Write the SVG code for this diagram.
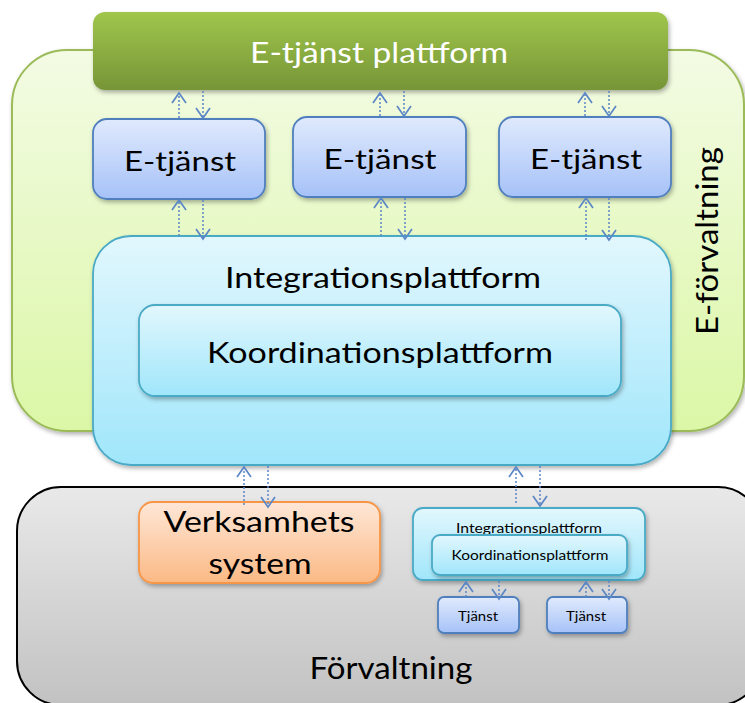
<svg xmlns="http://www.w3.org/2000/svg" width="745" height="703" viewBox="0 0 745 703">
<defs>
<linearGradient id="gOuter" x1="0" y1="0" x2="0" y2="1"><stop offset="0" stop-color="#f3fbe4"/><stop offset="1" stop-color="#dbf7a6"/></linearGradient>
<linearGradient id="gBar" x1="0" y1="0" x2="0" y2="1"><stop offset="0" stop-color="#a0c64c"/><stop offset="1" stop-color="#769537"/></linearGradient>
<linearGradient id="gBlue" x1="0" y1="0" x2="0" y2="1"><stop offset="0" stop-color="#e0eafd"/><stop offset="1" stop-color="#a6c2f8"/></linearGradient>
<linearGradient id="gCyan" x1="0" y1="0" x2="0" y2="1"><stop offset="0" stop-color="#e2f7fd"/><stop offset="1" stop-color="#a0e6fb"/></linearGradient>
<linearGradient id="gGray" x1="0" y1="0" x2="0" y2="1"><stop offset="0" stop-color="#e9e9e9"/><stop offset="1" stop-color="#c2c2c2"/></linearGradient>
<linearGradient id="gOrange" x1="0" y1="0" x2="0" y2="1"><stop offset="0" stop-color="#fee7d7"/><stop offset="1" stop-color="#fbb985"/></linearGradient>
<filter id="sh" x="-10%" y="-10%" width="130%" height="140%"><feDropShadow dx="1.5" dy="2.5" stdDeviation="2" flood-color="#000" flood-opacity="0.3"/></filter>
<marker id="ah" viewBox="0 0 13 16" markerWidth="13" markerHeight="16" refX="11" refY="8" orient="auto" markerUnits="userSpaceOnUse">
<path d="M1,1 L11,8 L1,15" fill="none" stroke="#5b87c6" stroke-width="1.7"/>
</marker>
<style>
text{font-family:Lato,"Liberation Sans",sans-serif;fill:#000}
.c{text-anchor:middle}
.w{fill:#fff}
.blue{fill:url(#gBlue);stroke:#4f7fbd;stroke-width:1.8;filter:url(#sh)}
.cyan{fill:url(#gCyan);stroke:#4aaac6;stroke-width:1.8;filter:url(#sh)}
.con line{stroke:#5b87c6;stroke-width:1.5;stroke-dasharray:2 2;marker-end:url(#ah)}
</style>
</defs>

<g id="e-forvaltning">
<rect x="12" y="50" width="732" height="381" rx="55" fill="url(#gOuter)" stroke="#9bbb59" stroke-width="2" filter="url(#sh)"/>
<text class="c" transform="translate(718,241) rotate(-90)" font-size="30" textLength="188" lengthAdjust="spacingAndGlyphs">E-förvaltning</text>
</g>

<g id="forvaltning">
<rect x="17" y="487" width="745" height="218" rx="44" fill="url(#gGray)" stroke="#000" stroke-width="2"/>
<text class="c" x="391" y="679" font-size="30" textLength="163" lengthAdjust="spacingAndGlyphs">Förvaltning</text>
</g>

<g id="etjanst-plattform">
<rect x="93" y="12" width="575" height="78" rx="12" fill="url(#gBar)" filter="url(#sh)"/>
<text class="c w" x="379" y="63" font-size="28" textLength="258" lengthAdjust="spacingAndGlyphs">E-tjänst plattform</text>
</g>

<g id="etjanst1">
<rect class="blue" x="93" y="119" width="172" height="80" rx="14"/>
<text class="c" x="180" y="171" font-size="27" textLength="112" lengthAdjust="spacingAndGlyphs">E-tjänst</text>
</g>
<g id="etjanst2">
<rect class="blue" x="293" y="117" width="173" height="80" rx="14"/>
<text class="c" x="380" y="169" font-size="27" textLength="113" lengthAdjust="spacingAndGlyphs">E-tjänst</text>
</g>
<g id="etjanst3">
<rect class="blue" x="499" y="117" width="172" height="80" rx="14"/>
<text class="c" x="586" y="169" font-size="27" textLength="112" lengthAdjust="spacingAndGlyphs">E-tjänst</text>
</g>

<g id="integrationsplattform">
<rect class="cyan" x="93" y="236" width="578" height="229" rx="38"/>
<text class="c" x="383" y="288" font-size="29" textLength="316" lengthAdjust="spacingAndGlyphs">Integrationsplattform</text>
</g>
<g id="koordinationsplattform">
<rect class="cyan" x="139" y="305" width="482" height="91" rx="16"/>
<text class="c" x="380" y="363" font-size="29" textLength="346" lengthAdjust="spacingAndGlyphs">Koordinationsplattform</text>
</g>

<g id="verksamhetssystem">
<rect x="139" y="502" width="241" height="81" rx="14" fill="url(#gOrange)" stroke="#f79646" stroke-width="1.8" filter="url(#sh)"/>
<text class="c" x="259" y="532" font-size="28" textLength="191" lengthAdjust="spacingAndGlyphs">Verksamhets</text>
<text class="c" x="260" y="574" font-size="28" textLength="103" lengthAdjust="spacingAndGlyphs">system</text>
</g>

<g id="integrationsplattform-small">
<rect class="cyan" x="413" y="508" width="232" height="72" rx="10"/>
<text class="c" x="529" y="533" font-size="13" textLength="146" lengthAdjust="spacingAndGlyphs">Integrationsplattform</text>
</g>
<g id="koordinationsplattform-small">
<rect class="cyan" x="432" y="535" width="195" height="40" rx="8"/>
<text class="c" x="530" y="560" font-size="14" textLength="157" lengthAdjust="spacingAndGlyphs">Koordinationsplattform</text>
</g>

<g id="tjanst1">
<rect class="blue" x="438" y="597" width="81" height="36" rx="6"/>
<text class="c" x="478" y="621" font-size="14" textLength="40" lengthAdjust="spacingAndGlyphs">Tjänst</text>
</g>
<g id="tjanst2">
<rect class="blue" x="547" y="597" width="80" height="36" rx="6"/>
<text class="c" x="586" y="621" font-size="14" textLength="40" lengthAdjust="spacingAndGlyphs">Tjänst</text>
</g>

<g id="connectors" class="con">
<line x1="179" y1="118" x2="179" y2="93"/>
<line x1="203" y1="91" x2="203" y2="118"/>
<line x1="380" y1="116" x2="380" y2="93"/>
<line x1="404" y1="91" x2="404" y2="116"/>
<line x1="585" y1="116" x2="585" y2="93"/>
<line x1="609" y1="91" x2="609" y2="116"/>
<line x1="179" y1="236" x2="179" y2="200"/>
<line x1="203" y1="200" x2="203" y2="239"/>
<line x1="381" y1="236" x2="381" y2="198"/>
<line x1="405" y1="198" x2="405" y2="239"/>
<line x1="586" y1="240" x2="586" y2="198"/>
<line x1="609" y1="198" x2="609" y2="240"/>
<line x1="244" y1="505" x2="244" y2="467"/>
<line x1="268" y1="466" x2="268" y2="507"/>
<line x1="516" y1="503" x2="516" y2="467"/>
<line x1="540" y1="466" x2="540" y2="506"/>
<line x1="466" y1="597" x2="466" y2="582"/>
<line x1="499" y1="581" x2="499" y2="599"/>
<line x1="586" y1="597" x2="586" y2="582"/>
<line x1="609" y1="581" x2="609" y2="599"/>
</g>
</svg>
